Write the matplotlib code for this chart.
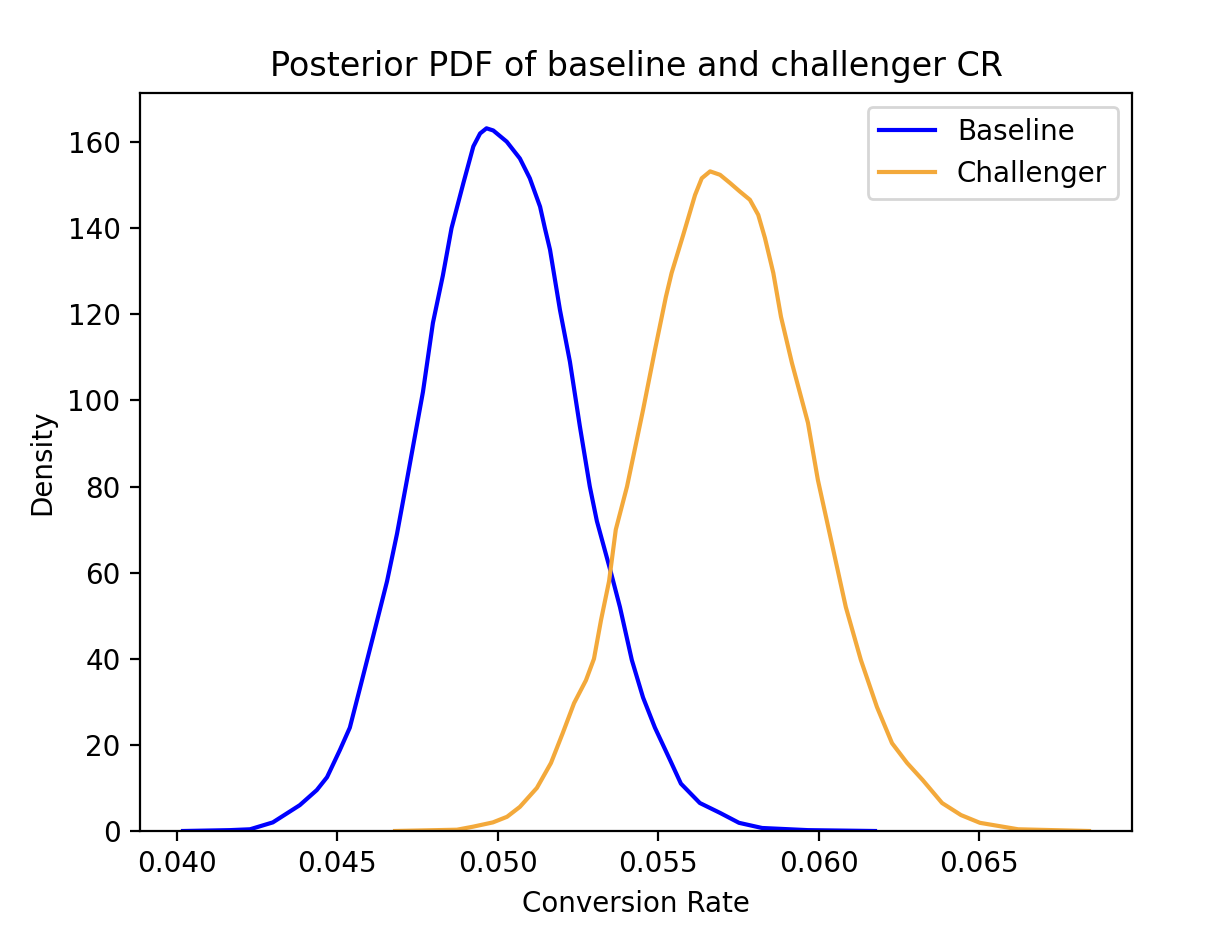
import matplotlib
matplotlib.use("Agg")
import matplotlib.pyplot as plt

# Baseline posterior density
baseline_x = [0.04019, 0.04165, 0.04228, 0.04299, 0.04383, 0.04436, 0.04468, 0.04508,
              0.04539, 0.04570, 0.04611, 0.04655, 0.04686, 0.04717, 0.04767, 0.04798,
              0.04829, 0.04856, 0.04893, 0.04924, 0.04945, 0.04965, 0.04986, 0.05028,
              0.05069, 0.05100, 0.05132, 0.05147, 0.05163, 0.05194, 0.05225, 0.05256,
              0.05287, 0.05309, 0.05353, 0.05381, 0.05418, 0.05453, 0.05490, 0.05537,
              0.05571, 0.05630, 0.05693, 0.05752, 0.05824, 0.05967, 0.06176]
baseline_y = [0.0, 0.2, 0.4, 2.0, 6.0, 9.5, 12.5, 18.8,
              24.0, 33.0, 45.0, 58.0, 69.0, 81.5, 102.0, 118.0,
              129.0, 140.0, 150.5, 159.0, 162.0, 163.2, 162.7, 160.1,
              156.2, 151.6, 145.0, 140.0, 135.0, 121.0, 109.0, 94.0,
              80.0, 72.0, 60.0, 52.0, 39.7, 31.0, 24.0, 16.5,
              11.0, 6.5, 4.2, 1.9, 0.7, 0.2, 0.0]

# Challenger posterior density
challenger_x = [0.04680, 0.04873, 0.04923, 0.04985, 0.05029, 0.05069, 0.05122, 0.05166,
                0.05203, 0.05238, 0.05275, 0.05300, 0.05322, 0.05347, 0.05368, 0.05403,
                0.05453, 0.05490, 0.05524, 0.05542, 0.05578, 0.05615, 0.05636, 0.05662,
                0.05693, 0.05724, 0.05755, 0.05786, 0.05812, 0.05833, 0.05859, 0.05883,
                0.05917, 0.05967, 0.05998, 0.06039, 0.06085, 0.06132, 0.06182, 0.06229,
                0.06276, 0.06325, 0.06385, 0.06444, 0.06503, 0.06622, 0.06843]
challenger_y = [0.0, 0.3, 1.0, 2.0, 3.3, 5.6, 10.0, 15.8,
                22.8, 29.7, 35.0, 40.0, 49.0, 58.0, 70.0, 80.0,
                97.8, 111.7, 124.0, 129.6, 138.4, 147.7, 151.6, 153.2,
                152.4, 150.5, 148.5, 146.6, 143.1, 137.7, 129.6, 119.4,
                108.7, 94.8, 81.5, 67.6, 52.0, 39.7, 28.8, 20.4,
                15.8, 11.8, 6.5, 3.7, 1.9, 0.4, 0.0]

W, H, DPI = 1210, 934, 200
fig = plt.figure(figsize=(W / DPI, H / DPI), dpi=DPI)
ax = fig.add_axes([140 / W, (H - 831) / H, (1132 - 140) / W, (831 - 93) / H])

ax.plot(baseline_x, baseline_y, color="blue", label="Baseline")
ax.plot(challenger_x, challenger_y, color="#F3A93B", label="Challenger")

ax.set_xlim(0.03885, 0.06977)
ax.set_ylim(0, 171.4)
ax.set_xticks([0.040, 0.045, 0.050, 0.055, 0.060, 0.065])
ax.set_xticklabels(["0.040", "0.045", "0.050", "0.055", "0.060", "0.065"])
ax.set_yticks([0, 20, 40, 60, 80, 100, 120, 140, 160])

ax.set_title("Posterior PDF of baseline and challenger CR")
ax.set_xlabel("Conversion Rate")
ax.set_ylabel("Density")
ax.legend(loc="upper right")

fig.savefig("out.png", dpi=DPI)
